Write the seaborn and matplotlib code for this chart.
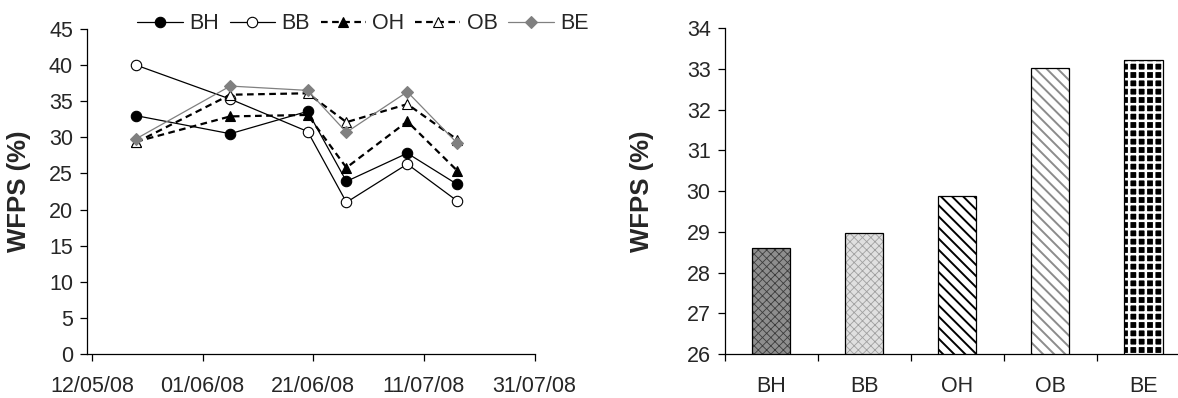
import pandas as pd
import numpy as np
import matplotlib.pyplot as plt
import matplotlib.dates as mdates
import seaborn as sns

# sampling dates and WFPS (%) per treatment (left panel)
dates = pd.to_datetime(['2008-05-20', '2008-06-06', '2008-06-20',
                        '2008-06-27', '2008-07-08', '2008-07-17'])
bh = [33.0, 30.5, 33.6, 23.9, 27.8, 23.5]
bb = [40.0, 35.3, 30.8, 21.0, 26.3, 21.2]
oh = [29.4, 32.9, 33.1, 25.8, 32.2, 25.4]
ob = [29.3, 35.9, 36.1, 32.1, 34.6, 29.7]
be = [29.8, 37.1, 36.5, 30.7, 36.3, 29.2]

# mean WFPS (%) per treatment (right panel)
treatments = ['BH', 'BB', 'OH', 'OB', 'BE']
means = [28.61, 28.98, 29.87, 33.02, 33.22]

sns.set_style('white')
plt.rcParams['font.family'] = ['Liberation Sans', 'DejaVu Sans']
plt.rcParams['hatch.linewidth'] = 1.3

fig = plt.figure(figsize=(11.78, 3.98), dpi=100)
ax1 = fig.add_axes([0.0737, 0.1106, 0.3801, 0.8165])
ax2 = fig.add_axes([0.6151, 0.1106, 0.3951, 0.8183])

dash = (0, (3, 2))
series = [
    ('BH', bh, dict(color='black', lw=0.9, ls='-', marker='o', mfc='black', mec='black', ms=7.5)),
    ('BB', bb, dict(color='black', lw=0.9, ls='-', marker='o', mfc='white', mec='black', ms=7.5)),
    ('OH', oh, dict(color='black', lw=1.6, ls=dash, marker='^', mfc='black', mec='black', ms=7.5)),
    ('OB', ob, dict(color='black', lw=1.6, ls=dash, marker='^', mfc='white', mec='black', ms=7.5)),
    ('BE', be, dict(color='#808080', lw=0.9, ls='-', marker='D', mfc='#808080', mec='#808080', ms=6)),
]
for name, vals, kw in series:
    sns.lineplot(x=dates, y=vals, ax=ax1, label=name, markeredgewidth=0.8, **kw)

ax1.set_ylim(0, 45)
ax1.set_yticks(np.arange(0, 46, 5))
ax1.set_xlim(pd.Timestamp('2008-05-11 02:00'), pd.Timestamp('2008-07-31'))
ax1.set_xticks(pd.date_range('2008-05-12', '2008-07-31', freq='20D'))
ax1.xaxis.set_major_formatter(mdates.DateFormatter('%d/%m/%y'))
ax1.set_xlabel('')
ax1.set_ylabel('WFPS (%)', fontsize=18.5, fontweight='bold')
ax1.yaxis.set_label_coords(-0.125, 0.5)
ax1.legend(ncol=5, frameon=False, fontsize=15.5, loc='center left',
           bbox_to_anchor=(0.1167, 0.9397), bbox_transform=fig.transFigure,
           borderpad=0, borderaxespad=0, handlelength=2.1,
           handletextpad=0.3, columnspacing=0.5)

# right panel: bars with fill patterns, then outlines
sns.barplot(x=treatments, y=means, ax=ax2, width=0.41, errorbar=None, color='white')
styles = [('#8e8e8e', 'xxxx', '#3c3c3c', 0.6),
          ('#e0e0e0', 'xxxx', '#a0a0a0', 0.6),
          ('white', '\\\\\\', 'black', 1.4),
          ('white', '\\\\\\', '#8c8c8c', 1.4),
          ('black', '++', 'white', 1.8)]
for p, (fc, h, hc, hl) in zip(ax2.patches, styles):
    p.set_facecolor(fc)
    p.set_hatch(h)
    p.set_edgecolor(hc)
    p.set_linewidth(0)
    if hasattr(p, 'set_hatch_linewidth'):
        p.set_hatch_linewidth(hl)
sns.barplot(x=treatments, y=means, ax=ax2, width=0.41, errorbar=None,
            fill=False, color='black', linewidth=0.9)

ax2.set_ylim(26, 34)
ax2.set_yticks(np.arange(26, 35, 1))
ax2.set_xlim(-0.5, 4.5)
ax2.set_xticks(range(5))
ax2.set_xticks(np.arange(-0.5, 5, 1), minor=True)
ax2.set_xticklabels(treatments)
ax2.set_xlabel('')
ax2.set_ylabel('WFPS (%)', fontsize=18.5, fontweight='bold')
ax2.yaxis.set_label_coords(-0.152, 0.5)

for ax in (ax1, ax2):
    for s in ('top', 'right'):
        ax.spines[s].set_visible(False)
    for s in ('left', 'bottom'):
        ax.spines[s].set_linewidth(0.9)
        ax.spines[s].set_color('black')
    ax.tick_params(axis='y', which='major', direction='out', length=5, width=0.9,
                   color='black', left=True, labelsize=15.5, pad=5)
    ax.tick_params(axis='x', which='both', direction='out', length=5, width=0.9,
                   color='black', bottom=True, labelsize=15.5, pad=11)
ax2.tick_params(axis='x', which='major', length=0, pad=16)

fig.savefig('out.png', dpi=100)
